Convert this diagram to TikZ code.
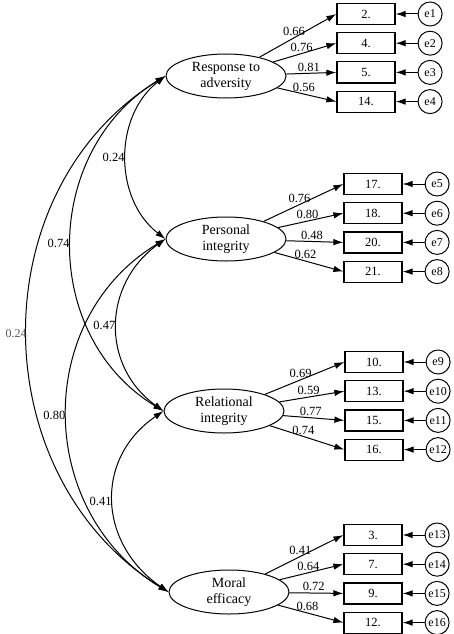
\documentclass[tikz,border=0pt]{standalone}
\usepackage{fontspec}
\setmainfont{Liberation Serif}
\usetikzlibrary{arrows.meta,positioning,shapes.geometric}

\begin{document}
\begin{tikzpicture}[x=1pt,y=-1pt,node distance=7pt,>={Latex[length=10pt,width=6.5pt]}]
\tikzstyle{latent}=[draw,ellipse,line width=1pt,minimum width=120pt,minimum height=44pt,inner sep=0pt,align=center,font=\fontsize{14}{16}\selectfont]
\tikzstyle{obs}=[draw,line width=1.2pt,minimum width=58pt,minimum height=21pt,inner sep=0pt,font=\fontsize{12.5}{14}\selectfont]
\tikzstyle{resid}=[draw,circle,line width=1pt,minimum size=24pt,inner sep=0pt,font=\fontsize{12}{13}\selectfont]
\tikzstyle{load}=[->,line width=1pt]
\tikzstyle{cov}=[<->,line width=1pt]
\tikzstyle{lbl}=[font=\fontsize{12.5}{14}\selectfont,inner sep=1.5pt]
\useasboundingbox (0,0) rectangle (453,634);

% factors
\node[latent] (ra) at (226,76) {Response to\\adversity};
\node[latent] (pi) at (226,239) {Personal\\integrity};
\node[latent] (ri) at (224,411) {Relational\\integrity};
\node[latent] (me) at (229,592) {Moral\\efficacy};

% items of response to adversity
\node[obs] (q2) at (366,14) {2.};
\node[obs,below=of q2] (q4) {4.};
\node[obs,below=of q4] (q5) {5.};
\node[obs,below=of q5] (q14) {14.};
% items of personal integrity
\node[obs] (q17) at (373,184) {17.};
\node[obs,below=of q17] (q18) {18.};
\node[obs,below=of q18] (q20) {20.};
\node[obs,below=of q20] (q21) {21.};
% items of relational integrity
\node[obs] (q10) at (374,362) {10.};
\node[obs,below=of q10] (q13) {13.};
\node[obs,below=of q13] (q15) {15.};
\node[obs,below=of q15] (q16) {16.};
% items of moral efficacy
\node[obs] (q3) at (373,535) {3.};
\node[obs,below=of q3] (q7) {7.};
\node[obs,below=of q7] (q9) {9.};
\node[obs,below=of q9] (q12) {12.};

% errors
\node[resid,right=22pt of q2] (e1) {e1};
\node[resid,right=22pt of q4] (e2) {e2};
\node[resid,right=22pt of q5] (e3) {e3};
\node[resid,right=22pt of q14] (e4) {e4};
\node[resid,right=22pt of q17] (e5) {e5};
\node[resid,right=22pt of q18] (e6) {e6};
\node[resid,right=22pt of q20] (e7) {e7};
\node[resid,right=22pt of q21] (e8) {e8};
\node[resid,right=22pt of q10] (e9) {e9};
\node[resid,right=22pt of q13] (e10) {e10};
\node[resid,right=22pt of q15] (e11) {e11};
\node[resid,right=22pt of q16] (e12) {e12};
\node[resid,right=22pt of q3] (e13) {e13};
\node[resid,right=22pt of q7] (e14) {e14};
\node[resid,right=22pt of q9] (e15) {e15};
\node[resid,right=22pt of q12] (e16) {e16};

% loadings
\draw[load] (ra)--(q2.west) node[lbl,above,pos=0.45] {0.66};
\draw[load] (ra)--(q4.west) node[lbl,above,pos=0.45] {0.76};
\draw[load] (ra)--(q5.west) node[lbl,above,pos=0.45] {0.81};
\draw[load] (ra)--(q14.west) node[lbl,above,pos=0.45] {0.56};
\draw[load] (pi)--(q17.west) node[lbl,above,pos=0.45] {0.76};
\draw[load] (pi)--(q18.west) node[lbl,above,pos=0.45] {0.80};
\draw[load] (pi)--(q20.west) node[lbl,above,pos=0.45] {0.48};
\draw[load] (pi)--(q21.west) node[lbl,above,pos=0.45] {0.62};
\draw[load] (ri)--(q10.west) node[lbl,above,pos=0.45] {0.69};
\draw[load] (ri)--(q13.west) node[lbl,above,pos=0.45] {0.59};
\draw[load] (ri)--(q15.west) node[lbl,above,pos=0.45] {0.77};
\draw[load] (ri)--(q16.west) node[lbl,above,pos=0.45] {0.74};
\draw[load] (me)--(q3.west) node[lbl,above,pos=0.45] {0.41};
\draw[load] (me)--(q7.west) node[lbl,above,pos=0.45] {0.64};
\draw[load] (me)--(q9.west) node[lbl,above,pos=0.45] {0.72};
\draw[load] (me)--(q12.west) node[lbl,above,pos=0.45] {0.68};

% error arrows
\draw[load] (e1)--(q2.east);
\draw[load] (e2)--(q4.east);
\draw[load] (e3)--(q5.east);
\draw[load] (e4)--(q14.east);
\draw[load] (e5)--(q17.east);
\draw[load] (e6)--(q18.east);
\draw[load] (e7)--(q20.east);
\draw[load] (e8)--(q21.east);
\draw[load] (e9)--(q10.east);
\draw[load] (e10)--(q13.east);
\draw[load] (e11)--(q15.east);
\draw[load] (e12)--(q16.east);
\draw[load] (e13)--(q3.east);
\draw[load] (e14)--(q7.east);
\draw[load] (e15)--(q9.east);
\draw[load] (e16)--(q12.east);

% correlations
\draw[cov] (ra.west) .. controls +(-52,40) and +(-52,-40) .. (pi.west) node[lbl,left,pos=0.5] {0.24};
\draw[cov] (ra.west) .. controls +(-124,75) and +(-124,-75) .. (ri.west) node[lbl,left,pos=0.5] {0.74};
\draw[cov] (ra.west) .. controls +(-186,115) and +(-186,-115) .. (me.west) node[lbl,left,pos=0.5,inner sep=0.5pt,text=black!65,font=\fontsize{12}{14}\selectfont] {0.24};
\draw[cov] (pi.west) .. controls +(-63,45) and +(-63,-45) .. (ri.west) node[lbl,left,pos=0.5] {0.47};
\draw[cov] (pi.west) .. controls +(-133,80) and +(-133,-80) .. (me.west) node[lbl,left,pos=0.5] {0.80};
\draw[cov] (ri.west) .. controls +(-70,48) and +(-70,-48) .. (me.west) node[lbl,left,pos=0.5] {0.41};
\end{tikzpicture}
\end{document}
